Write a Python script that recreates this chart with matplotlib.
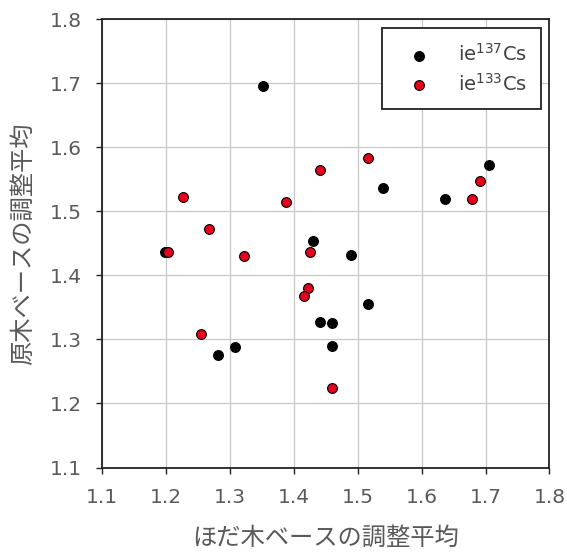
import matplotlib
matplotlib.use("Agg")
import matplotlib.pyplot as plt

plt.rcParams['font.family'] = ['Noto Sans CJK JP', 'DejaVu Sans']
plt.rcParams['mathtext.fontset'] = 'custom'
plt.rcParams['mathtext.rm'] = 'DejaVu Sans'

# ie137Cs (black)
cs137_x = [1.352, 1.431, 1.540, 1.636, 1.705, 1.199, 1.442, 1.460, 1.282, 1.309, 1.460, 1.490, 1.516]
cs137_y = [1.696, 1.454, 1.536, 1.519, 1.572, 1.437, 1.328, 1.325, 1.275, 1.288, 1.289, 1.432, 1.356]
# ie133Cs (red)
cs133_x = [1.227, 1.388, 1.442, 1.268, 1.516, 1.679, 1.691, 1.204, 1.322, 1.426, 1.423, 1.416, 1.255, 1.460]
cs133_y = [1.522, 1.515, 1.565, 1.473, 1.584, 1.519, 1.548, 1.437, 1.430, 1.437, 1.381, 1.368, 1.308, 1.224]

ticks = [1.1, 1.2, 1.3, 1.4, 1.5, 1.6, 1.7, 1.8]
xlabel = 'ほだ木ベースの調整平均'
ylabel = '原木ベースの調整平均'
labels = [r'ie$^{\mathregular{137}}$Cs', r'ie$^{\mathregular{133}}$Cs']

fig = plt.figure(figsize=(5.67, 5.54), dpi=100)
ax = fig.add_axes([0.1794, 0.1561, 0.7897, 0.8091])

ax.scatter(cs137_x, cs137_y, s=50, c='black', edgecolors='black', linewidths=0.8, zorder=3, label=labels[0])
ax.scatter(cs133_x, cs133_y, s=50, c='#e8001c', edgecolors='black', linewidths=0.8, zorder=3, label=labels[1])

ax.set_xlim(1.1, 1.8)
ax.set_ylim(1.1, 1.8)
ax.set_xticks(ticks)
ax.set_yticks(ticks)
ax.set_xticklabels([f'{t:.1f}' for t in ticks], family='DejaVu Sans')
ax.set_yticklabels([f'{t:.1f}' for t in ticks], family='DejaVu Sans')
ax.grid(True, color='#c8c8c8', linewidth=0.9)
ax.set_axisbelow(True)
for sp in ax.spines.values():
    sp.set_color('#222222')
    sp.set_linewidth(1.3)
ax.tick_params(axis='both', direction='out', length=4, width=1.0, color='#222222',
               labelsize=14.5, labelcolor='#5a5a5a', pad=10.5)

ax.set_xlabel(xlabel, fontsize=17.5, color='#595959', labelpad=13)
ax.set_ylabel(ylabel, fontsize=17.5, color='#595959', labelpad=10)

leg = ax.legend(loc='upper right', bbox_to_anchor=(0.982, 0.980),
                prop={'family': 'DejaVu Sans', 'size': 14},
                frameon=True, fancybox=False, edgecolor='#222222', framealpha=1,
                borderpad=0.75, labelspacing=0.4, handletextpad=0.79, markerscale=1.0,
                handlelength=2.38, borderaxespad=0)
leg.get_frame().set_linewidth(1.3)
for t in leg.get_texts():
    t.set_color('#404040')

fig.savefig('out.png', dpi=100)
